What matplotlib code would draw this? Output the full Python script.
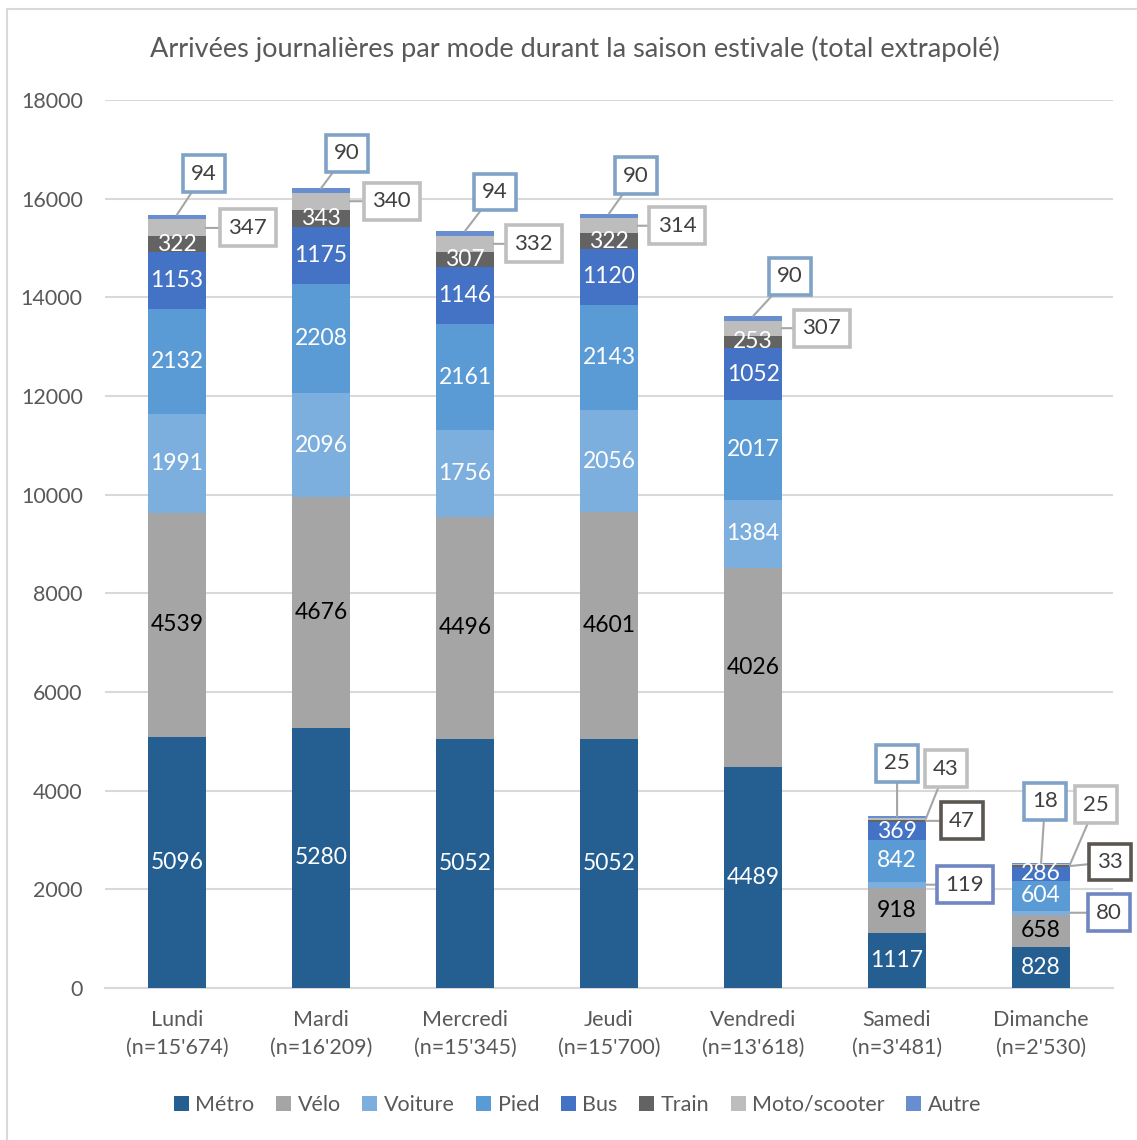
import matplotlib.pyplot as plt
import numpy as np
from matplotlib.patches import Rectangle

plt.rcParams['font.family'] = ['Lato', 'DejaVu Sans']

# data
days = ['Lundi', 'Mardi', 'Mercredi', 'Jeudi', 'Vendredi', 'Samedi', 'Dimanche']
n_labels = ["15'674", "16'209", "15'345", "15'700", "13'618", "3'481", "2'530"]
modes = ['Métro', 'Vélo', 'Voiture', 'Pied', 'Bus', 'Train', 'Moto/scooter', 'Autre']
metro = [5096, 5280, 5052, 5052, 4489, 1117, 828]
velo = [4539, 4676, 4496, 4601, 4026, 918, 658]
voiture = [1991, 2096, 1756, 2056, 1384, 119, 80]
pied = [2132, 2208, 2161, 2143, 2017, 842, 604]
bus = [1153, 1175, 1146, 1120, 1052, 369, 286]
train = [322, 343, 307, 322, 253, 47, 33]
moto = [347, 340, 332, 314, 307, 43, 25]
autre = [94, 90, 94, 90, 90, 25, 18]

series = [metro, velo, voiture, pied, bus, train, moto, autre]
colors = ['#255E91', '#A5A5A5', '#7CAFDD', '#5B9BD5', '#4472C4', '#636363', '#BDBDBD', '#698ED0']
text_colors = ['white', 'black', 'white', 'white', 'white', 'white', None, None]
box_edges = {'Autre': '#7FA2C6', 'Moto/scooter': '#BFBFBF', 'Train': '#5A5651', 'Voiture': '#6F86C0'}

# callout offsets in pixels (dx, dy), anchor is bar top (Autre) or bar right edge
autre_off = [(27, 41), (26, 35), (30, 39), (27, 38), (37, 40), (0, 53), (4, 62)]
moto_off = [(42, 0), (42, 0), (40, 0), (39, 0), (40, 0), (20, 50), (26, 60)]
train_off = {5: (36, 0), 6: (40, 4)}
voiture_off = {5: (39, 0), 6: (39, 0)}

fig = plt.figure(figsize=(11.37, 11.40), dpi=100)
ax = fig.add_axes([0.0923, 0.1333, 0.8867, 0.779])

x = np.arange(len(days))
w = 0.40
bottom = np.zeros(len(days))
mids = {}
for mode, vals, col, tc in zip(modes, series, colors, text_colors):
    vals = np.array(vals)
    ax.bar(x, vals, w, bottom=bottom, color=col, label=mode, zorder=3)
    mids[mode] = bottom + vals / 2
    if tc is not None:
        for i, v in enumerate(vals):
            if v >= 200:
                ax.text(x[i], bottom[i] + v / 2, str(v), ha='center', va='center',
                        color=tc, fontsize=16.5, zorder=4)
    bottom = bottom + vals
totals = bottom


def callout(val, xy, off, ec):
    ax.annotate(str(val), xy=xy, xytext=off, textcoords='offset pixels',
                ha='center', va='center', fontsize=16, color='#404040', zorder=5,
                bbox=dict(boxstyle='square,pad=0.38', fc='white', ec=ec, lw=2.6),
                arrowprops=dict(arrowstyle='-', color='#A6A6A6', lw=1.5,
                                shrinkA=0, shrinkB=0))


for i in range(len(days)):
    callout(autre[i], (x[i], totals[i]), autre_off[i], box_edges['Autre'])
    callout(moto[i], (x[i] + w / 2, mids['Moto/scooter'][i]), moto_off[i], box_edges['Moto/scooter'])
    if i in train_off:
        callout(train[i], (x[i] + w / 2, mids['Train'][i]), train_off[i], box_edges['Train'])
    if i in voiture_off:
        callout(voiture[i], (x[i] + w / 2, mids['Voiture'][i]), voiture_off[i], box_edges['Voiture'])

ax.set_xlim(-0.5, 6.5)
ax.set_ylim(0, 18000)
ax.set_yticks(np.arange(0, 18001, 2000))
ax.set_xticks(x)
ax.set_xticklabels([d + '\n(n=' + n + ')' for d, n in zip(days, n_labels)], linespacing=1.5)
ax.tick_params(axis='both', length=0, labelsize=15.5, colors='#595959')
ax.tick_params(axis='x', pad=16)
ax.tick_params(axis='y', pad=16)
ax.grid(axis='y', color='#D9D9D9', lw=1.5, zorder=0)
for s in ['top', 'right', 'left']:
    ax.spines[s].set_visible(False)
ax.spines['bottom'].set_color('#D9D9D9')
ax.spines['bottom'].set_linewidth(1.5)

fig.text(0.506, 0.957, 'Arrivées journalières par mode durant la saison estivale (total extrapolé)',
         ha='center', va='center', fontsize=19.5, color='#595959')

handles, labels = ax.get_legend_handles_labels()
fig.legend(handles, labels, loc='center', bbox_to_anchor=(0.508, 0.031), ncol=8, frameon=False,
           fontsize=15.5, labelcolor='#595959', handlelength=0.7, handleheight=0.7,
           handletextpad=0.3, columnspacing=1.0)

# outer frame
fig.patches.append(Rectangle((7 / 1137, -0.01), 1.1, 1131 / 1140 + 0.01, transform=fig.transFigure,
                             fill=False, ec='#D9D9D9', lw=1.5, zorder=0))

fig.savefig('out.png', dpi=100)
